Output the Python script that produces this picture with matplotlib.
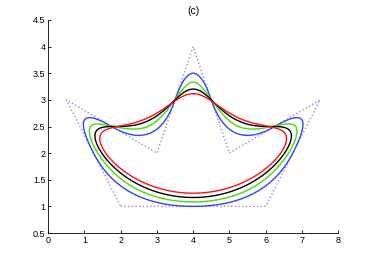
import matplotlib
matplotlib.use("Agg")
import matplotlib.pyplot as plt
import numpy as np

# control polygon (closed)
ctrl_x = [2, 6, 7.5, 5, 4, 3, 0.5]
ctrl_y = [1, 1, 3, 2, 4, 2, 3]

# curve degrees and colours
degrees = [2, 3, 4, 5]
colors = ['#3045ff', '#44dd00', 'black', '#ff1010']


def bspline(x, p):
    # cardinal B-spline of degree p, support [0, p+1]
    if p == 0:
        return ((x >= 0) & (x < 1)).astype(float)
    return x / p * bspline(x, p - 1) + (p + 1 - x) / p * bspline(x - 1, p - 1)


def closed_curve(px, py, p, m=60):
    n = len(px)
    u = np.linspace(0, n, n * m + 1)
    cx = np.zeros_like(u)
    cy = np.zeros_like(u)
    for k in range(-p - 1, n + p + 1):
        w = bspline(u - k, p)
        cx += w * px[k % n]
        cy += w * py[k % n]
    return cx, cy


plt.rcParams['font.family'] = ['Liberation Sans', 'DejaVu Sans']
fig = plt.figure(figsize=(3.74, 2.63), dpi=100)
ax = fig.add_axes([0.129, 0.114, 0.775, 0.81])

ax.plot(ctrl_x + ctrl_x[:1], ctrl_y + ctrl_y[:1], ':', color='#9a80f0', lw=1.0)
for d, c in zip(degrees, colors):
    cx, cy = closed_curve(ctrl_x, ctrl_y, d)
    ax.plot(cx, cy, color=c, lw=1.0)

ax.set_xlim(0, 8)
ax.set_ylim(0.5, 4.5)
ax.set_xticks(range(0, 9))
ax.set_yticks(np.arange(0.5, 4.6, 0.5))
ax.set_yticklabels(['0.5', '1', '1.5', '2', '2.5', '3', '3.5', '4', '4.5'])
ax.spines['top'].set_visible(False)
ax.spines['right'].set_visible(False)
for s in ['left', 'bottom']:
    ax.spines[s].set_linewidth(0.6)
ax.tick_params(direction='in', length=2.5, width=0.6, labelsize=6.5, pad=2)
ax.set_title('(c)', fontsize=7.5, pad=4)

fig.savefig('out.png', dpi=100)
